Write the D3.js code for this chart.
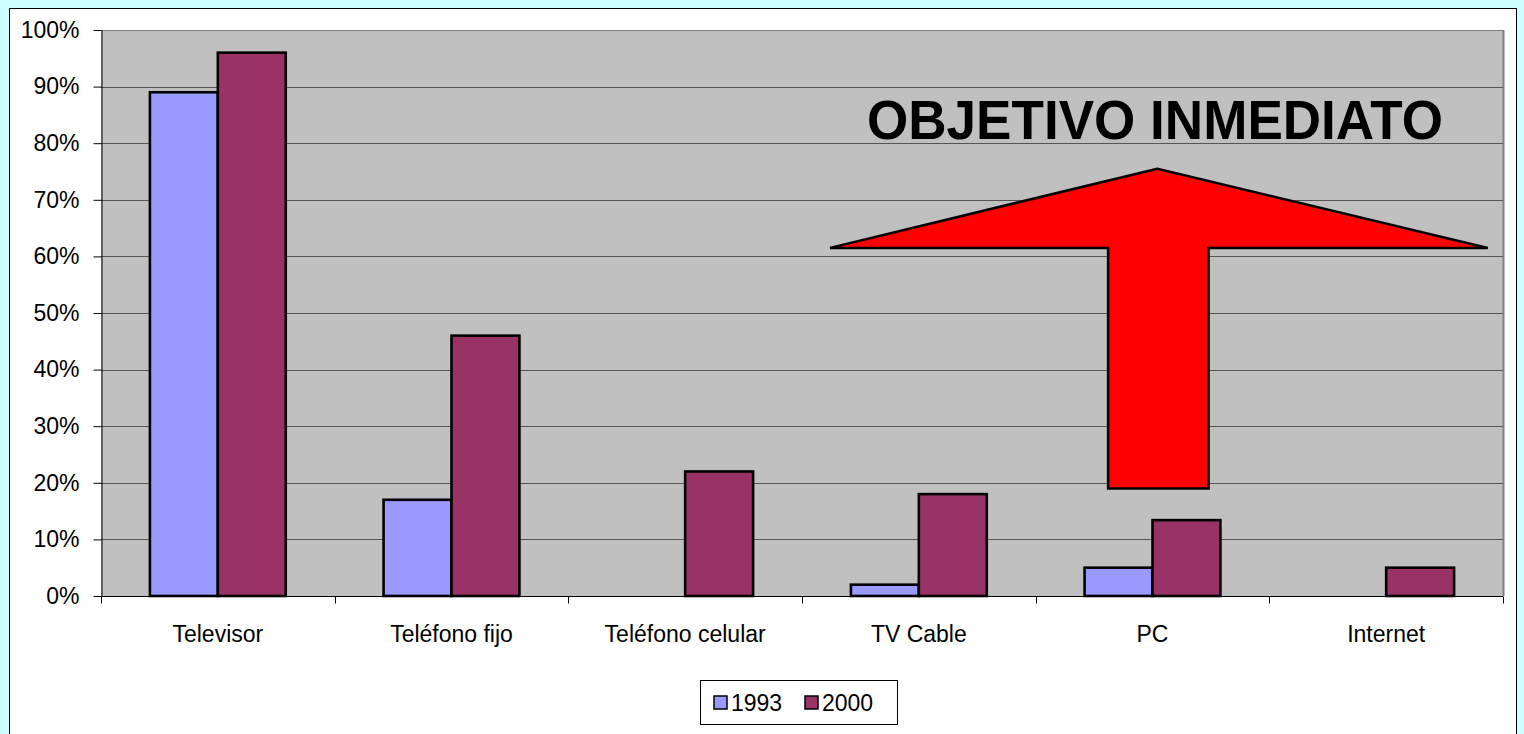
<!DOCTYPE html>
<html>
<head>
<meta charset="utf-8">
<script src="https://cdn.jsdelivr.net/npm/d3@7"></script>
<style>
  html, body { margin: 0; padding: 0; background: #ccffff; }
  svg { display: block; }
</style>
</head>
<body>
<svg id="chart" width="1524" height="734"></svg>
<script>
const categories = ['Televisor', 'Teléfono fijo', 'Teléfono celular', 'TV Cable', 'PC', 'Internet'];
const seriesNames = ['1993', '2000'];
const values1993 = [89, 17, 0, 2, 5, 0];
const values2000 = [96, 46, 22, 18, 13.4, 5];
const yTicks = [0, 10, 20, 30, 40, 50, 60, 70, 80, 90, 100];
const colors = ['#9999ff', '#993366'];
const annotation = 'OBJETIVO INMEDIATO';

const svg = d3.select('#chart');
const font = 'Arial, "Liberation Sans", sans-serif';

// white chart area
svg.append('rect')
    .attr('x', 9.5).attr('y', 8.5)
    .attr('width', 1507).attr('height', 740)
    .attr('fill', '#fff').attr('stroke', '#000').attr('stroke-width', 1);

const plot = { left: 101, right: 1503, top: 30, bottom: 596 };

const x0 = d3.scaleBand().domain(categories).range([plot.left, plot.right]).padding(0);
const x1 = d3.scaleBand().domain(seriesNames).range([0, x0.bandwidth()])
    .paddingInner(0).paddingOuter(0.72);
const y = d3.scaleLinear().domain([0, 100]).range([plot.bottom, plot.top]);
// continuous x for the annotation arrow (category units)
const xc = d3.scaleLinear().domain([0, categories.length]).range([plot.left, plot.right]);

// plot background
svg.append('rect')
    .attr('x', plot.left).attr('y', plot.top)
    .attr('width', plot.right - plot.left).attr('height', plot.bottom - plot.top)
    .attr('fill', '#c0c0c0');

// gridlines
svg.append('g')
    .selectAll('line')
    .data(yTicks.filter(d => d > 0))
    .enter()
    .append('line')
    .attr('x1', plot.left).attr('x2', plot.right)
    .attr('y1', d => Math.round(y(d)) + 0.5)
    .attr('y2', d => Math.round(y(d)) + 0.5)
    .attr('stroke', d => d === 100 ? '#808080' : '#555')
    .attr('stroke-width', 1);

// right border of plot
svg.append('line')
    .attr('x1', plot.right + 0.5).attr('x2', plot.right + 0.5)
    .attr('y1', plot.top).attr('y2', plot.bottom)
    .attr('stroke', '#808080').attr('stroke-width', 2);

// bars
const rows = categories.map((c, i) => ({ cat: c, vals: [values1993[i], values2000[i]] }));
const groups = svg.append('g')
    .selectAll('g')
    .data(rows)
    .enter()
    .append('g')
    .attr('transform', d => `translate(${x0(d.cat)},0)`);

groups.selectAll('rect')
    .data(d => d.vals.map((v, k) => ({ key: seriesNames[k], v, k })).filter(d => d.v > 0))
    .enter()
    .append('rect')
    .attr('x', d => x1(d.key))
    .attr('y', d => y(d.v))
    .attr('width', x1.bandwidth())
    .attr('height', d => y(0) - y(d.v))
    .attr('fill', d => colors[d.k])
    .attr('stroke', '#000')
    .attr('stroke-width', 2.6);

// y axis
const yAxis = d3.axisLeft(y).tickValues(yTicks).tickFormat(d => d + '%').tickSize(8).tickSizeOuter(0);
const yg = svg.append('g').attr('transform', `translate(${plot.left + 0.5},0)`).call(yAxis);
yg.select('.domain').attr('stroke', '#000');
yg.selectAll('.tick line').attr('stroke', '#000');
yg.selectAll('.tick text')
    .attr('x', -22)
    .attr('font-family', font).attr('font-size', 23).attr('fill', '#000');

// x axis
const xg = svg.append('g').attr('transform', `translate(0,${plot.bottom + 0.5})`);
xg.append('line')
    .attr('x1', plot.left).attr('x2', plot.right)
    .attr('stroke', '#000');
xg.selectAll('.xtick')
    .data(d3.range(categories.length + 1))
    .enter()
    .append('line')
    .attr('class', 'xtick')
    .attr('x1', d => Math.round(xc(d)) + 0.5).attr('x2', d => Math.round(xc(d)) + 0.5)
    .attr('y1', 0).attr('y2', 7)
    .attr('stroke', '#000');
xg.selectAll('text')
    .data(categories)
    .enter()
    .append('text')
    .attr('x', d => x0(d) + x0.bandwidth() / 2)
    .attr('y', 45)
    .attr('text-anchor', 'middle')
    .attr('font-family', font).attr('font-size', 23)
    .text(d => d);

// annotation arrow
const arrowPts = [
    [4.52, 75.5], [5.935, 61.5], [4.74, 61.5], [4.74, 19],
    [4.31, 19], [4.31, 61.5], [3.12, 61.5]
];
svg.append('path')
    .attr('d', d3.line().x(d => xc(d[0])).y(d => y(d[1]))(arrowPts) + 'Z')
    .attr('fill', '#ff0000')
    .attr('stroke', '#000')
    .attr('stroke-width', 2.5)
    .attr('stroke-linejoin', 'miter');

svg.append('text')
    .attr('x', 1155).attr('y', 139)
    .attr('text-anchor', 'middle')
    .attr('font-family', font).attr('font-weight', 'bold').attr('font-size', 56)
    .attr('textLength', 576).attr('lengthAdjust', 'spacingAndGlyphs')
    .text(annotation);

// legend
const legend = svg.append('g').attr('transform', 'translate(700,680)');
legend.append('rect')
    .attr('x', 0.5).attr('y', 0.5).attr('width', 197).attr('height', 44)
    .attr('fill', '#fff').attr('stroke', '#000');
const legX = [14, 105];
seriesNames.forEach((s, i) => {
    legend.append('rect')
        .attr('x', legX[i]).attr('y', 16).attr('width', 13).attr('height', 13)
        .attr('fill', colors[i]).attr('stroke', '#000').attr('stroke-width', 1.5);
    legend.append('text')
        .attr('x', legX[i] + 17).attr('y', 31)
        .attr('font-family', font).attr('font-size', 23)
        .text(s);
});
</script>
</body>
</html>
